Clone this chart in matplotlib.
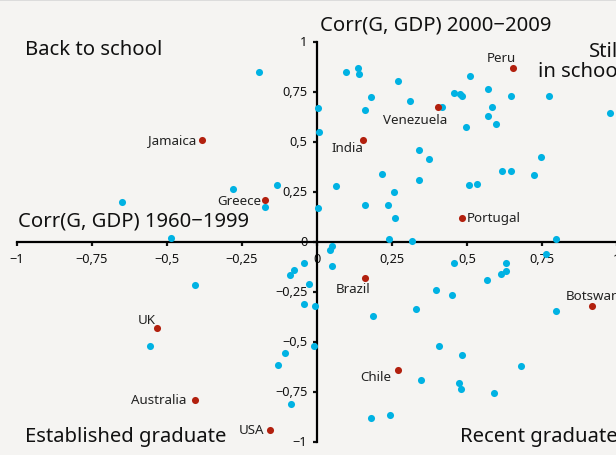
import matplotlib
matplotlib.use("Agg")
import matplotlib.pyplot as plt
from matplotlib.ticker import FixedLocator, FuncFormatter

# ---- data ----
blue_x = [-0.193, -0.279, -0.134, -0.173, -0.651, 0.004, 0.008, 0.002,
          0.097, 0.136, 0.141, 0.271, 0.179, 0.160, 0.309, 0.416, 0.457, 0.477, 0.482,
          0.510, 0.569, 0.647, 0.772, 0.584, 0.570, 0.597, 0.498, 0.976,
          0.339, 0.373, 0.746, 0.218, 0.340, 0.617, 0.648, 0.722, 0.507, 0.533,
          0.063, 0.258, 0.160, 0.238, 0.260,
          -0.487, -0.407, -0.557, -0.088, -0.130, -0.107, -0.011, -0.043, -0.006,
          -0.027, -0.043, -0.077, -0.090,
          0.049, 0.043, 0.051, 0.239, 0.317, 0.796, 0.763,
          0.457, 0.630, 0.631, 0.613, 0.566, 0.396, 0.450, 0.331, 0.186, 0.796,
          0.408, 0.484, 0.681, 0.347, 0.473, 0.479, 0.591, 0.181, 0.243]
blue_y = [0.848, 0.267, 0.285, 0.173, 0.200, 0.670, 0.550, 0.170,
          0.848, 0.870, 0.838, 0.803, 0.725, 0.662, 0.707, 0.677, 0.747, 0.740, 0.730,
          0.830, 0.767, 0.730, 0.730, 0.675, 0.628, 0.588, 0.573, 0.645,
          0.462, 0.417, 0.425, 0.342, 0.310, 0.353, 0.353, 0.337, 0.287, 0.288,
          0.278, 0.248, 0.185, 0.185, 0.120,
          0.022, -0.213, -0.520, -0.812, -0.617, -0.557, -0.520, -0.312, -0.320,
          -0.212, -0.107, -0.142, -0.165,
          -0.018, -0.038, -0.122, 0.015, 0.005, 0.015, -0.058,
          -0.105, -0.107, -0.145, -0.158, -0.192, -0.240, -0.263, -0.335, -0.372, -0.345,
          -0.520, -0.563, -0.620, -0.688, -0.703, -0.737, -0.753, -0.882, -0.867]

countries = ["Jamaica", "Greece", "Peru", "Venezuela", "India", "Portugal",
             "Brazil", "Botswana", "UK", "Chile", "Australia", "USA"]
country_x = [-0.382, -0.173, 0.654, 0.402, 0.154, 0.483,
             0.161, 0.917, -0.533, 0.271, -0.407, -0.157]
country_y = [0.510, 0.208, 0.868, 0.677, 0.510, 0.122,
             -0.178, -0.318, -0.430, -0.642, -0.790, -0.938]

tick_vals = [-1, -0.75, -0.5, -0.25, 0, 0.25, 0.5, 0.75, 1]

# label placement (pixel offsets, alignment)
label_pos = {
    "Jamaica":   (-6, 0, "right", "center"),
    "Greece":    (-4, 0, "right", "center"),
    "Peru":      (-12, 11, "center", "center"),
    "Venezuela": (-22, -13, "center", "center"),
    "India":     (-16, -8, "center", "center"),
    "Portugal":  (5, 0, "left", "center"),
    "Brazil":    (-12, -11, "center", "center"),
    "Botswana":  (-26, 10, "left", "center"),
    "UK":        (-10, 8, "center", "center"),
    "Chile":     (-23, -6, "center", "center"),
    "Australia": (-9, 0, "right", "center"),
    "USA":       (-6, 0, "right", "center"),
}

FONT = ["Noto Sans", "DejaVu Sans"]
plt.rcParams["font.family"] = FONT

BG = "#f5f4f2"
BLUE = "#00b2e3"
RED = "#b2200e"

W, H = 616, 456
fig = plt.figure(figsize=(W / 100, H / 100), dpi=100, facecolor=BG)
# x: -1 -> 17px, 1 -> 617px ; y: 1 -> 43px, -1 -> 443px
ax = fig.add_axes([17 / W, (H - 443) / H, 600 / W, 400 / H])
ax.set_facecolor(BG)
ax.set_xlim(-1, 1)
ax.set_ylim(-1, 1)

ax.scatter(blue_x, blue_y, s=26, color=BLUE, linewidths=0, zorder=3, clip_on=False)
ax.scatter(country_x, country_y, s=26, color=RED, linewidths=0, zorder=4, clip_on=False)

for name, x, y in zip(countries, country_x, country_y):
    dx, dy, ha, va = label_pos[name]
    ax.annotate(name, (x, y), xytext=(dx, dy), textcoords="offset pixels",
                ha=ha, va=va, fontsize=9.6, color="#222222", zorder=5)

for s in ["top", "right"]:
    ax.spines[s].set_visible(False)
ax.spines["left"].set_position(("data", 0))
ax.spines["bottom"].set_position(("data", 0))
ax.spines["left"].set_linewidth(1.6)
ax.spines["bottom"].set_linewidth(1.6)
ax.spines["bottom"].set_bounds(-1, 1.05)

fmt = FuncFormatter(lambda v, p: ("%g" % v).replace(".", ",").replace("-", "\u2212"))
ax.xaxis.set_major_locator(FixedLocator(tick_vals))
ax.yaxis.set_major_locator(FixedLocator(tick_vals))
ax.xaxis.set_major_formatter(fmt)
ax.yaxis.set_major_formatter(fmt)
ax.tick_params(axis="both", direction="out", length=3, width=1.6,
               labelsize=9.2, colors="#111111", pad=4)
for lbl in ax.get_yticklabels():
    lbl.set_verticalalignment("center")

# titles & quadrant labels (figure pixel coordinates)
def ftext(px, py, s, **kw):
    fig.text(px / W, 1 - py / H, s, **kw)

big = dict(fontsize=14.6, color="#111111")
ftext(320, 25, "Corr(G, GDP) 2000\u22122009", ha="left", va="center", **big)
ftext(18, 222, "Corr(G, GDP) 1960\u22121999", ha="left", va="center", **big)
ftext(25, 50, "Back to school", ha="left", va="center", **big)
ftext(538, 62, "Still\nin school", ha="left", va="center", linespacing=0.95,
      multialignment="right", **big)
ftext(25, 437, "Established graduate", ha="left", va="center", **big)
ftext(460, 437, "Recent graduate", ha="left", va="center", **big)

# top border line and left light stripe
fig.add_artist(plt.Line2D([0, 1], [1 - 0.5 / H, 1 - 0.5 / H], color="#d8d8d8", lw=1.2))

fig.savefig("out.png", dpi=100, facecolor=BG)
